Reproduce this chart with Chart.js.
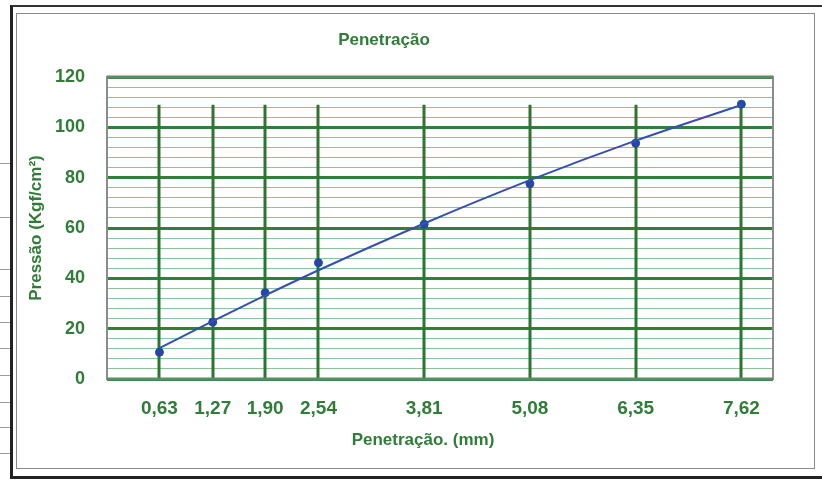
<!DOCTYPE html>
<html lang="pt">
<head>
  <meta charset="UTF-8">
  <title>Penetração</title>
  <script src="https://cdn.jsdelivr.net/npm/chart.js@4.4.3/dist/chart.umd.min.js"></script>
  <style>
    html, body { margin: 0; padding: 0; background: #fff; }
    body { width: 822px; height: 481px; position: relative; overflow: hidden; }
    .outer { position: absolute; left: 10px; top: 5px; width: 830px; height: 469px;
             border-left: 3px solid #222; border-top: 2px solid #333; border-bottom: 3px solid #222; }
    .inner { position: absolute; left: 16px; top: 13px; width: 797px; height: 454px;
             border: 1px solid #8a8a8a; background: #fff; }
    .rule { position: absolute; left: 0; width: 10px; height: 1px; background: #9a9a9a; }
    canvas { position: absolute; left: 16px; top: 13px; }
  </style>
</head>
<body>
  <div class="outer"></div>
  <div class="inner"></div>
  <div class="rule" style="top:163px"></div>
  <div class="rule" style="top:217px"></div>
  <div class="rule" style="top:269px"></div>
  <div class="rule" style="top:296px"></div>
  <div class="rule" style="top:322px"></div>
  <div class="rule" style="top:348px"></div>
  <div class="rule" style="top:375px"></div>
  <div class="rule" style="top:402px"></div>
  <div class="rule" style="top:427px"></div>
  <div class="rule" style="top:453px"></div>
  <canvas id="chart" width="799" height="456"></canvas>

  <script>
    // dados
    const penetracao = [0.63, 1.27, 1.90, 2.54, 3.81, 5.08, 6.35, 7.62];
    const pressao = [10.6, 22.6, 34.3, 46.2, 61.5, 77.6, 93.7, 109.2];
    const tendencia = [12.3, 23.0, 33.2, 43.2, 61.8, 79.0, 94.7, 108.9];
    const yTicks = [0, 20, 40, 60, 80, 100, 120];
    const minorStep = 4;
    const dropTop = 109;

    const green = '#2f7d37';
    const font = "'Liberation Sans', Arial, sans-serif";

    // linhas verticais verdes e moldura da área do gráfico
    const gridPlugin = {
      id: 'gridPlugin',
      beforeDatasetsDraw(chart) {
        const { ctx, chartArea: a, scales: { x, y } } = chart;
        ctx.save();
        ctx.strokeStyle = '#8c8c8c';
        ctx.lineWidth = 2;
        ctx.strokeRect(a.left, a.top, a.right - a.left, a.bottom - a.top);
        ctx.strokeStyle = '#2c7632';
        ctx.lineWidth = 3;
        penetracao.forEach(v => {
          const px = Math.round(x.getPixelForValue(v));
          ctx.beginPath();
          ctx.moveTo(px, y.getPixelForValue(0));
          ctx.lineTo(px, y.getPixelForValue(dropTop));
          ctx.stroke();
        });
        ctx.strokeStyle = '#5f8a62';
        ctx.lineWidth = 3;
        ctx.beginPath();
        ctx.moveTo(a.left, a.bottom);
        ctx.lineTo(a.right, a.bottom);
        ctx.moveTo(a.left, a.top);
        ctx.lineTo(a.right, a.top);
        ctx.stroke();
        ctx.restore();
      },
      afterDraw(chart) {
        const { ctx } = chart;
        ctx.save();
        ctx.fillStyle = green;
        ctx.textAlign = 'center';
        ctx.textBaseline = 'middle';
        ctx.font = 'bold 17px ' + font;
        ctx.fillText('Penetração', 368, 27);
        ctx.fillText('Penetração. (mm)', 407, 427);
        ctx.restore();
      }
    };

    new Chart(document.getElementById('chart'), {
      data: {
        datasets: [
          {
            type: 'line',
            data: penetracao.map((v, i) => ({ x: v, y: tendencia[i] })),
            borderColor: '#3450b2',
            borderWidth: 2,
            pointRadius: 0,
            cubicInterpolationMode: 'monotone',
            fill: false
          },
          {
            type: 'scatter',
            data: penetracao.map((v, i) => ({ x: v, y: pressao[i] })),
            backgroundColor: '#2547a8',
            borderColor: '#2547a8',
            pointRadius: 4
          }
        ]
      },
      options: {
        responsive: false,
        animation: false,
        layout: { padding: { top: 64, right: 42, left: 0, bottom: 0 } },
        plugins: { legend: { display: false }, tooltip: { enabled: false } },
        scales: {
          x: {
            type: 'linear',
            min: 0,
            max: 8,
            afterBuildTicks: axis => { axis.ticks = penetracao.map(v => ({ value: v })); },
            afterFit: axis => { axis.height = 90; },
            grid: { display: false, drawTicks: false },
            border: { display: false },
            ticks: {
              padding: 18,
              color: green,
              font: { family: font, size: 19, weight: 'bold' },
              callback: v => v.toFixed(2).replace('.', ',')
            }
          },
          y: {
            min: 0,
            max: 120,
            afterBuildTicks: axis => {
              const t = [];
              for (let v = 0; v <= 120; v += minorStep) t.push({ value: v });
              axis.ticks = t;
            },
            afterFit: axis => { axis.width = 91; },
            border: { display: false },
            grid: {
              drawTicks: false,
              tickLength: 0,
              color: c => yTicks.includes(c.tick.value) ? '#2f8039' : '#8cc49a',
              lineWidth: c => yTicks.includes(c.tick.value) ? 3 : 1
            },
            ticks: {
              autoSkip: false,
              padding: 22,
              color: green,
              font: { family: font, size: 18, weight: 'bold' },
              callback: v => yTicks.includes(v) ? v : ''
            },
            title: {
              display: true,
              text: 'Pressão (Kgf/cm²)',
              color: green,
              padding: { top: 10, bottom: 0 },
              font: { family: font, size: 17, weight: 'bold' }
            }
          }
        }
      },
      plugins: [gridPlugin]
    });
  </script>
</body>
</html>
